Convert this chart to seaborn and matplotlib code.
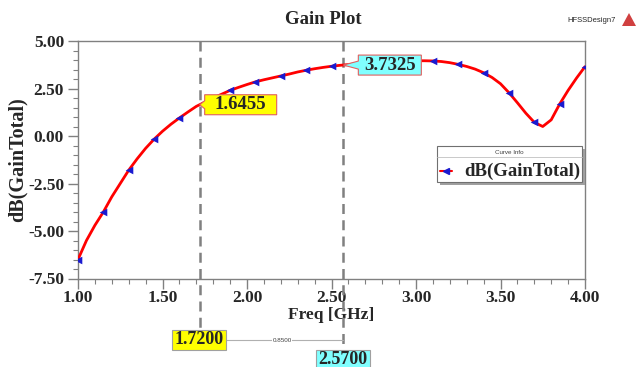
import matplotlib
matplotlib.use("Agg")
import matplotlib.pyplot as plt
import seaborn as sns
import pandas as pd
import numpy as np
from matplotlib.patches import Polygon, Rectangle
from matplotlib.ticker import MultipleLocator

# ---- data ----
freq = [1.00, 1.05, 1.10, 1.15, 1.20, 1.25, 1.30, 1.35, 1.40, 1.45,
        1.50, 1.55, 1.60, 1.65, 1.70, 1.75, 1.80, 1.85, 1.90, 1.95,
        2.00, 2.05, 2.10, 2.15, 2.20, 2.25, 2.30, 2.35, 2.40, 2.45,
        2.50, 2.55, 2.60, 2.65, 2.70, 2.75, 2.80, 2.85, 2.90, 2.95,
        3.00, 3.05, 3.10, 3.15, 3.20, 3.25, 3.30, 3.35, 3.40, 3.45,
        3.50, 3.55, 3.60, 3.65, 3.70, 3.75, 3.80, 3.85, 3.90, 3.95, 4.00]
gain = [-6.50, -5.50, -4.70, -4.00, -3.20, -2.50, -1.80, -1.20, -0.65, -0.17,
        0.25, 0.62, 0.95, 1.26, 1.56, 1.78, 2.00, 2.20, 2.40, 2.56,
        2.71, 2.85, 2.96, 3.06, 3.16, 3.26, 3.37, 3.46, 3.54, 3.61,
        3.67, 3.72, 3.76, 3.80, 3.84, 3.87, 3.90, 3.92, 3.94, 3.95,
        3.96, 3.96, 3.95, 3.92, 3.86, 3.77, 3.66, 3.52, 3.33, 3.08,
        2.75, 2.28, 1.75, 1.20, 0.72, 0.50, 0.85, 1.68, 2.40, 3.05, 3.65]
marker_freq = [1.00, 1.15, 1.30, 1.45, 1.60, 1.75, 1.90, 2.05, 2.20, 2.35,
               2.50, 2.65, 2.80, 2.95, 3.10, 3.25, 3.40, 3.55, 3.70, 3.85, 4.00]
marker_x = [1.72, 2.57]
marker_y = [1.6455, 3.7325]
delta_text = "0.8500"
xticks = [1.00, 1.50, 2.00, 2.50, 3.00, 3.50, 4.00]
yticks = [-7.50, -5.00, -2.50, 0.00, 2.50, 5.00]

df = pd.DataFrame({"freq": freq, "gain": gain})
dfm = df[df["freq"].round(2).isin([round(v, 2) for v in marker_freq])]

sns.set_style("white")
plt.rcParams["font.family"] = ["Liberation Serif", "DejaVu Serif"]

W, H = 637, 367
fig = plt.figure(figsize=(W / 100, H / 100), dpi=100)
ax = fig.add_axes([78 / W, 1 - 278.5 / H, (585 - 78) / W, (278.5 - 41) / H])

sns.lineplot(data=df, x="freq", y="gain", ax=ax, color="red", lw=2.0, zorder=3)
sns.scatterplot(data=dfm, x="freq", y="gain", ax=ax, marker="<", color="#1a1ad0",
                s=30, edgecolor="#1a1ad0", linewidth=0, zorder=4)

ax.set_xlim(1.0, 4.0)
ax.set_ylim(-7.5, 5.0)
ax.set_xticks(xticks)
ax.set_yticks(yticks)
ax.set_xticklabels([f"{v:.2f}" for v in xticks])
ax.set_yticklabels([f"{v:.2f}" for v in yticks])
ax.xaxis.set_minor_locator(MultipleLocator(0.1))
ax.yaxis.set_minor_locator(MultipleLocator(0.5))
ax.tick_params(axis="both", which="major", direction="out", length=7, width=1,
               color="#808080", labelsize=12.5)
ax.tick_params(axis="x", which="major", pad=1)
ax.tick_params(axis="y", which="major", pad=3)
ax.tick_params(axis="both", which="minor", direction="out", length=3.5, width=0.8,
               color="#808080")
ax.tick_params(axis="x", which="both", bottom=True)
ax.tick_params(axis="y", which="both", left=True)
for lab in ax.get_xticklabels() + ax.get_yticklabels():
    lab.set_fontweight("bold")
for s in ax.spines.values():
    s.set_color("#808080")
    s.set_linewidth(1.0)

ax.set_xlabel("Freq [GHz]", fontsize=12.5, fontweight="bold", labelpad=1)
ax.set_ylabel("dB(GainTotal)", fontsize=14.5, fontweight="bold", labelpad=0)
fig.text(323 / W, 1 - 20 / H, "Gain Plot", fontsize=13.5, fontweight="bold",
         ha="center", va="center")
fig.text(592 / W, 1 - 20 / H, "HFSSDesign7", fontsize=5.5, family="Liberation Sans",
         ha="center", va="center")
fig.patches.append(Polygon([[622 / W, 1 - 26 / H], [629 / W, 1 - 13 / H], [636 / W, 1 - 26 / H]],
                           closed=True, transform=fig.transFigure, facecolor="#d04040",
                           edgecolor="none"))

# marker cursor lines (extend below the axes)
trans = ax.get_xaxis_transform()
bottoms = [1 - 345 / H, 1 - 362 / H]
for xv, yb in zip(marker_x, bottoms):
    ybot_ax = (yb - (1 - 278.5 / H)) / ((278.5 - 41) / H)
    ax.plot([xv, xv], [1.0, ybot_ax], transform=trans, color="#808080", lw=1.8,
            ls=(0, (4, 2.5)), clip_on=False, zorder=2)

# value callouts on the curve
def callout(x, y, text, fc, dx_px, w_px, h_px):
    px, py = ax.transData.transform((x, y))
    inv = fig.transFigure.inverted()
    x0 = px + dx_px
    pts_px = [(px, py), (x0, py + 4), (x0, py + h_px / 2), (x0 + w_px, py + h_px / 2),
              (x0 + w_px, py - h_px / 2), (x0, py - h_px / 2), (x0, py - 4)]
    pts = inv.transform(pts_px)
    fig.patches.append(Polygon(pts, closed=True, transform=fig.transFigure,
                               facecolor=fc, edgecolor="#e06060", lw=0.8, zorder=5))
    cx, cy = inv.transform((x0 + w_px / 2, py))
    fig.text(cx, cy, text, fontsize=13.5, fontweight="bold", ha="center", va="center",
             zorder=6)

callout(marker_x[0], marker_y[0], f"{marker_y[0]:.4f}", "#ffff00", 5, 72, 20)
callout(marker_x[1], marker_y[1], f"{marker_y[1]:.4f}", "#80ffff", 15, 63, 20)

# x value boxes below the axes
def xbox(xc, yc, text, fc):
    w, h = 54, 20
    fig.patches.append(Rectangle(((xc - w / 2) / W, 1 - (yc + h / 2) / H), w / W, h / H,
                                 transform=fig.transFigure, facecolor=fc,
                                 edgecolor="#a0a0a0", lw=0.8, zorder=5))
    fig.text(xc / W, 1 - yc / H, text, fontsize=13, fontweight="bold",
             ha="center", va="center", zorder=6)

xbox(199, 340, f"{marker_x[0]:.4f}", "#ffff00")
xbox(343, 360, f"{marker_x[1]:.4f}", "#80ffff")
fig.lines.append(plt.Line2D([226 / W, 343 / W], [1 - 340 / H, 1 - 340 / H],
                            transform=fig.transFigure, color="#b0b0b0", lw=0.8))
fig.text(282 / W, 1 - 340 / H, delta_text, fontsize=4.5, family="Liberation Sans",
         ha="center", va="center", color="#404040",
         bbox=dict(facecolor="white", edgecolor="none", pad=0.5))

# legend box "Curve Info"
lx0, ly0, lw_, lh_ = 437, 146, 145, 36
fig.patches.append(Rectangle(((lx0 + 3) / W, 1 - (ly0 + lh_ + 3) / H), lw_ / W, lh_ / H,
                             transform=fig.transFigure, facecolor="#a0a0a0",
                             edgecolor="none", zorder=6))
fig.patches.append(Rectangle((lx0 / W, 1 - (ly0 + lh_) / H), lw_ / W, lh_ / H,
                             transform=fig.transFigure, facecolor="white",
                             edgecolor="#707070", lw=0.8, zorder=7))
fig.lines.append(plt.Line2D([lx0 / W, (lx0 + lw_) / W], [1 - (ly0 + 11) / H] * 2,
                            transform=fig.transFigure, color="#c0c0c0", lw=0.6, zorder=8))
fig.text((lx0 + lw_ / 2) / W, 1 - (ly0 + 6) / H, "Curve Info", fontsize=4.5,
         family="Liberation Sans", ha="center", va="center", color="#404040", zorder=8)
fig.lines.append(plt.Line2D([440 / W, 452 / W], [1 - 171 / H] * 2, transform=fig.transFigure,
                            color="red", lw=1.5, zorder=8))
fig.lines.append(plt.Line2D([446 / W], [1 - 171 / H], transform=fig.transFigure,
                            marker="<", color="#1a1ad0", ms=5, lw=0, zorder=9))
fig.text(580 / W, 1 - 171 / H, "dB(GainTotal)", fontsize=13.5, fontweight="bold",
         ha="right", va="center", zorder=8)

fig.savefig("out.png", dpi=100)
